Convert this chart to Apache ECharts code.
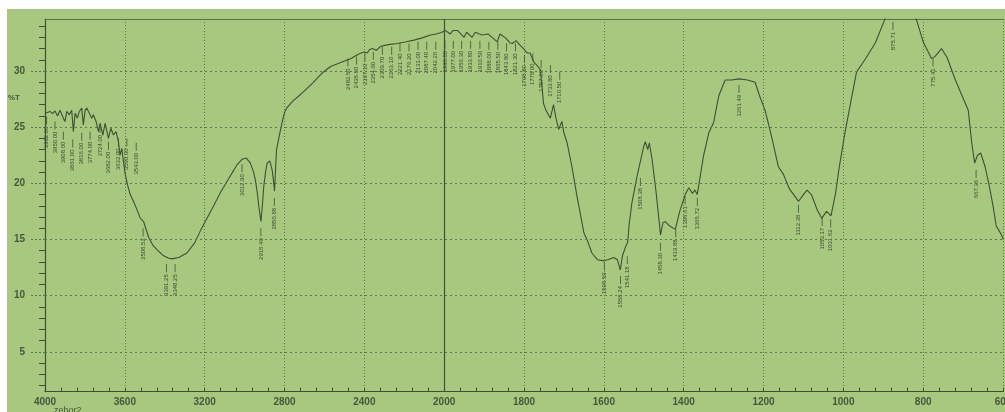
<!DOCTYPE html>
<html>
<head>
<meta charset="utf-8">
<script src="https://cdn.jsdelivr.net/npm/echarts@6/dist/echarts.min.js"></script>
<style>
html,body{margin:0;padding:0;background:#ffffff;width:1005px;height:412px;overflow:hidden;}
#chart{position:absolute;left:7px;top:9px;width:1012px;height:403px;}
</style>
</head>
<body>
<div id="chart"></div>
<script>
// ---- data (wavenumber cm-1, %T) ----
const wavenumbers = [
4000,3988,3975,3962,3950,3937,3925,3908,3900,3891,3878,3866,3858,3849,3838,3828,3816,3808,3799,3791,
3778,3766,3758,3744,3732,3724,3710,3699,3682,3670,3657,3644,3632,3624,3615,3607,3598,3587,3573,3557,
3540,3523,3506,3481,3460,3439,3410,3383,3370,3358,3330,3289,3250,3218,3185,3155,3120,3084,3060,3038,
3012,2991,2971,2955,2946,2935,2929,2918,2910,2904,2895,2887,2874,2862,2855,2850,2846,2840,2823,2810,
2800,2789,2760,2714,2660,2613,2569,2512,2469,2430,2402,2385,2375,2360,2340,2318,2280,2234,2190,2151,
2110,2068,2040,2018,1996,1985,1978,1966,1950,1944,1930,1922,1912,1905,1890,1880,1867,1860,1845,1835,
1829,1820,1810,1799,1792,1785,1775,1765,1759,1751,1745,1734,1726,1720,1713,1705,1700,1692,1680,1666,
1660,1650,1640,1630,1616,1600,1590,1575,1566,1559,1553,1546,1540,1537,1530,1517,1505,1500,1496,1490,
1486,1479,1470,1462,1458,1452,1446,1435,1421,1410,1395,1387,1378,1372,1366,1350,1337,1325,1312,1296,
1280,1261,1240,1221,1210,1196,1180,1163,1150,1135,1112,1100,1091,1080,1065,1054,1042,1031,1020,1010,
996,980,967,946,920,896,875,840,817,800,779,770,754,740,721,705,687,678,671,664,
656,645,634,625,617,605,599
];
const transmittance = [
26.25,26.3,26.4,26.2,26.45,26.0,26.5,25.8,25.5,26.4,26.1,26.5,24.6,26.25,25.8,26.4,26.7,25.2,26.5,26.7,
26.25,25.8,26.1,25.5,24.6,25.35,24.3,25.35,24.0,24.9,24.3,24.6,23.7,22.5,23.1,21.95,20.8,19.9,19.0,18.4,
17.7,16.9,16.6,15.2,14.5,14.1,13.6,13.35,13.3,13.3,13.4,13.8,14.7,15.9,17.0,18.0,19.2,20.3,21.0,21.65,
22.15,22.25,21.8,21.0,20.3,19.0,18.0,16.6,18.2,19.7,21.0,21.8,22.0,21.2,20.2,19.3,20.8,23.0,24.5,25.6,
26.3,26.7,27.3,28.0,28.9,29.8,30.4,30.8,31.1,31.5,31.7,31.6,31.9,32.0,31.85,32.2,32.35,32.45,32.6,32.75,
32.95,33.2,33.3,33.4,33.6,33.3,33.6,33.6,33.0,33.45,33.0,33.45,33.3,33.2,33.3,33.0,32.6,33.3,32.9,32.5,
32.45,32.7,32.3,31.9,31.6,31.6,30.8,30.4,30.1,27.1,26.5,25.8,27.0,25.8,24.8,25.5,24.5,23.6,21.5,18.6,
17.5,15.6,14.8,13.8,13.2,13.1,13.2,13.4,13.2,12.3,13.6,14.3,14.8,16.2,18.2,20.6,22.5,23.3,23.7,23.0,
23.6,22.1,19.5,16.8,15.4,16.5,16.6,16.2,15.9,17.5,19.1,19.6,19.1,19.4,19.0,22.5,24.5,25.4,27.8,29.2,
29.2,29.3,29.2,29.0,27.8,26.5,24.2,21.5,20.8,19.5,18.4,19.0,19.4,19.0,17.6,16.9,17.5,17.1,19.0,21.5,
24.5,27.5,29.9,31.0,32.5,34.6,36.5,36.0,34.6,32.6,31.1,31.3,32.0,31.2,29.35,28.0,26.5,23.5,21.8,22.5,
22.7,21.5,19.7,18.0,16.2,15.5,15.0
];
// peak annotations: wavenumber and the %T level where the leader starts
const peakWavenumbers = [
3992,3950,3908,3861,3816,3774,3724,3682,3632,3590,3543,3508.52,3391.25,3348.25,3012.9,2918.4,2850.88,
2482.5,2438.8,2397.1,2354.9,2309.7,2263.1,2221.4,2176.2,2131.0,2087.4,2042.2,1998.0,1977.0,1956.3,1933.8,
1910.5,1888.0,1865.5,1843.8,1821.3,1798.8,1778.0,1757.0,1733.8,1710.5,
1598.59,1558.24,1541.18,1508.38,1458.3,1419.88,1396.61,1365.72,1261.49,1112.38,1053.17,1031.62,875.71,775.41,667.36
];
const peakLevels = [
25.95,25.5,24.6,23.9,24.5,24.6,25.2,23.7,24.0,24.0,23.6,16.0,12.8,12.8,21.7,16.0,18.7,
31.13,31.27,31.57,31.71,32.16,32.16,32.46,32.46,32.6,32.6,32.6,32.69,32.69,32.69,32.69,
32.69,32.6,32.6,32.46,32.46,31.42,31.57,30.98,30.53,29.94,
12.96,11.75,13.5,20.48,14.7,15.9,18.85,18.7,28.76,18.1,16.93,16.78,34.37,31.13,21.2
];
const xTickLabels = ['4000','3600','3200','2800','2400','2000','1800','1600','1400','1200','1000','800','600'];
const yTickValues = [5,10,15,20,25,30];
const yMinorValues = [2,3,4,6,7,8,9,11,12,13,14,16,17,18,19,21,22,23,24,26,27,28,29,31,32,33,34];

// axis transform: 4000-2000 at 400 cm-1 per division, 2000-600 at 200 cm-1 per division
function toPos(wn){ return wn >= 2000 ? (4000 - wn) / 400 : 5 + (2000 - wn) / 200; }

const ink = '#3e5034';
const gridInk = '#5c764a';
const textInk = '#46573d';
const chart = echarts.init(document.getElementById('chart'), null, {renderer:'canvas'});
const Y_MIN = 1.45, Y_MAX = 34.63;

chart.setOption({
  backgroundColor: '#a8c87f',
  animation: false,
  grid: {left: 38, top: 10, right: 16, bottom: 20.3, containLabel: false},
  xAxis: [{
    type: 'value', min: 0, max: 12, interval: 1, position: 'bottom',
    axisLine: {show: true, lineStyle: {color: ink, width: 1.2}},
    axisTick: {show: true, inside: true, length: 4, lineStyle: {color: ink}},
    minorTick: {show: true, splitNumber: 5, length: 4, lineStyle: {color: ink}},
    axisLabel: {show: true, margin: 6, color: textInk, fontSize: 10, fontWeight: 'bold',
      fontFamily: 'Liberation Sans', hideOverlap: false, formatter: v => xTickLabels[Math.round(v)] || ''},
    splitLine: {show: true, lineStyle: {color: gridInk, type: [1, 2], width: 1}}
  }, {
    type: 'value', min: 0, max: 12, position: 'top',
    axisLine: {show: true, lineStyle: {color: '#587050', width: 1}},
    axisTick: {show: false}, axisLabel: {show: false}, splitLine: {show: false}
  }],
  yAxis: [{
    type: 'value', min: Y_MIN, max: Y_MAX, position: 'left',
    axisLine: {show: true, lineStyle: {color: ink, width: 1.2}},
    axisTick: {show: true, customValues: yTickValues, length: 14, lineStyle: {color: gridInk, type: [2, 2]}},
    axisLabel: {show: true, customValues: yTickValues, margin: 20, color: textInk, fontSize: 10,
      fontWeight: 'bold', fontFamily: 'Liberation Sans'},
    splitLine: {show: false}
  }, {
    type: 'value', min: Y_MIN, max: Y_MAX, position: 'left',
    axisLine: {show: false},
    axisTick: {show: true, customValues: yMinorValues, length: 6, lineStyle: {color: ink}},
    axisLabel: {show: false}, splitLine: {show: false}
  }],
  graphic: [
    {type: 'text', left: 1, top: 85, style: {text: '%T', fontSize: 8, fontWeight: 'bold', fill: textInk, fontFamily: 'Liberation Sans'}},
    {type: 'text', left: 47, top: 397, style: {text: 'zebor2', fontSize: 9, fill: textInk, fontFamily: 'Liberation Sans'}}
  ],
  series: [{
    type: 'line',
    data: wavenumbers.map((w, i) => [toPos(w), transmittance[i]]),
    showSymbol: false, symbol: 'none', clip: true, smooth: false,
    lineStyle: {color: ink, width: 1.1},
    markLine: {
      silent: true, symbol: 'none', label: {show: false}, animation: false,
      data: yTickValues.map(v => ({yAxis: v, lineStyle: {color: gridInk, type: [2, 3], width: 1}}))
        .concat([{xAxis: toPos(2000), lineStyle: {color: '#3f5236', type: 'solid', width: 1.2}}])
    }
  }, {
    type: 'custom',
    data: peakWavenumbers.map((w, i) => [toPos(w), peakLevels[i], w]),
    clip: false,
    renderItem: function(params, api){
      const p = api.coord([api.value(0), api.value(1)]);
      const txt = Number(api.value(2)).toFixed(2);
      return {
        type: 'group',
        children: [
          {type: 'line', shape: {x1: p[0], y1: p[1], x2: p[0], y2: p[1] + 8}, style: {stroke: ink, lineWidth: 0.8}},
          {type: 'text', x: p[0], y: p[1] + 10, rotation: Math.PI / 2,
            style: {text: txt, fontSize: 6, fill: '#3a4832', align: 'right', verticalAlign: 'middle',
              fontFamily: 'Liberation Sans Narrow, Liberation Sans'}}
        ]
      };
    }
  }]
});
</script>
</body>
</html>
